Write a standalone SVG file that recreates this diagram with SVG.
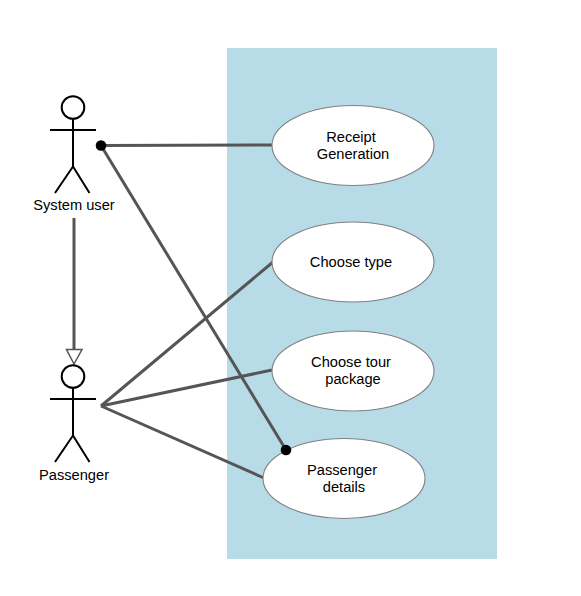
<svg xmlns="http://www.w3.org/2000/svg" width="581" height="596" viewBox="0 0 581 596">
<style>
text{font-family:"Liberation Sans",Arial,sans-serif;font-size:14.67px;fill:#000;text-anchor:middle}
.uc{fill:#fff;stroke:#808080;stroke-width:1.1}
.act{fill:none;stroke:#000;stroke-width:2}
.con{fill:none;stroke:#555;stroke-width:3}
</style>
<defs>
<g id="actor">
<circle class="act" cx="73" cy="0" r="11.300"/>
<path class="act" d="M73 11V59M50 22.500H96M73 59L55 85.500M73 59L89.500 85.500"/>
</g>
</defs>
<rect id="boundary" x="227" y="48" width="270" height="511" fill="#b7dce8"/>
<g id="connectors">
<path class="con" d="M101 145.500L272 145"/>
<path class="con" d="M101 145.500L286 450"/>
<path class="con" d="M74 218V350"/>
<path d="M66.500 349.500H82L74 364Z" fill="#fff" stroke="#555" stroke-width="1.500"/>
<path class="con" d="M101 406L273 262"/>
<path class="con" d="M101 406L272 370"/>
<path class="con" d="M101 406L264 478"/>
</g>
<g id="system-user"><use href="#actor" y="107.500"/><text x="74" y="210">System user</text></g>
<g id="passenger"><use href="#actor" y="376.500"/><text x="74" y="480">Passenger</text></g>
<g id="receipt"><ellipse class="uc" cx="353" cy="145.500" rx="81" ry="40"/><text x="351" y="142">Receipt</text><text x="353" y="159">Generation</text></g>
<g id="choose-type"><ellipse class="uc" cx="353" cy="262" rx="81" ry="40"/><text x="351" y="267">Choose type</text></g>
<g id="choose-tour"><ellipse class="uc" cx="353" cy="371" rx="81" ry="40"/><text x="351" y="367">Choose tour</text><text x="353" y="384">package</text></g>
<g id="passenger-details"><ellipse class="uc" cx="344" cy="478.500" rx="81" ry="40"/><text x="342" y="475">Passenger</text><text x="344" y="492">details</text></g>
<circle cx="101" cy="145.500" r="5.300" fill="#000"/>
<circle cx="286" cy="450" r="5.300" fill="#000"/>
</svg>
